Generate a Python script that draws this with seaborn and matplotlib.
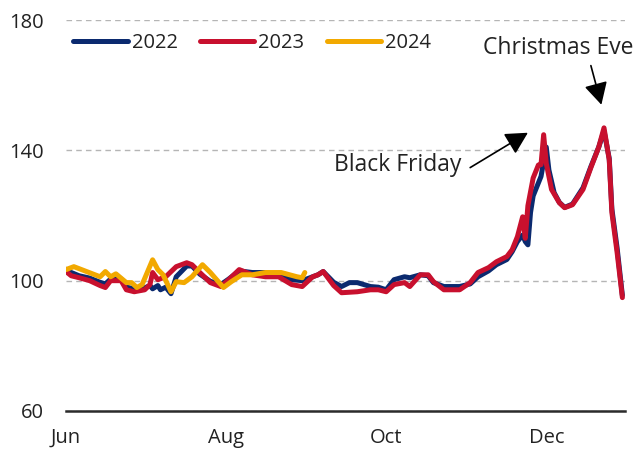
import matplotlib
matplotlib.use("Agg")
import matplotlib.pyplot as plt
from matplotlib.lines import Line2D
import pandas as pd
import seaborn as sns

# Seasonal index (common calendar: month-day), one series per year
dates_2022 = ["06-01", "06-03", "06-06", "06-10", "06-14", "06-16", "06-18", "06-22",
              "06-24", "06-27", "07-01", "07-03", "07-04", "07-06", "07-07", "07-09",
              "07-11", "07-13", "07-17", "07-19", "07-22", "07-26", "07-30", "08-02",
              "08-06", "08-11", "08-16", "08-21", "08-26", "08-30", "09-03", "09-05",
              "09-07", "09-11", "09-14", "09-17", "09-20", "09-25", "09-28", "10-01",
              "10-04", "10-08", "10-10", "10-14", "10-17", "10-19", "10-23", "10-29",
              "11-02", "11-05", "11-09", "11-12", "11-16", "11-18", "11-20", "11-22",
              "11-23", "11-24", "11-25", "11-26", "11-28", "11-29", "12-01", "12-02",
              "12-04", "12-06", "12-08", "12-11", "12-15", "12-18", "12-21", "12-23",
              "12-25", "12-26", "12-28", "12-30"]
values_2022 = [103.5, 102.5, 101.5, 100.8, 99.5, 99.0, 100.5, 100.5,
               98.0, 97.5, 97.8, 98.5, 97.5, 98.5, 97.2, 98.0,
               96.0, 101.2, 104.5, 104.5, 102.0, 99.8, 98.8, 100.5,
               103.0, 102.5, 102.5, 101.8, 100.3, 100.0, 101.2, 101.8,
               102.8, 99.5, 98.2, 99.4, 99.4, 98.2, 98.0, 97.2,
               100.3, 101.2, 100.9, 101.8, 101.5, 99.4, 98.2, 98.2,
               99.0, 101.2, 103.0, 104.9, 106.5, 108.9, 112.0, 114.0,
               112.0, 111.0, 120.9, 126.0, 130.0, 132.0, 141.0, 134.0,
               127.0, 124.0, 122.5, 123.5, 128.5, 135.0, 141.0, 146.0,
               137.5, 122.0, 110.0, 95.5]

dates_2023 = ["06-01", "06-03", "06-06", "06-10", "06-14", "06-16", "06-18", "06-22",
              "06-24", "06-27", "07-01", "07-03", "07-04", "07-06", "07-09", "07-13",
              "07-17", "07-19", "07-22", "07-26", "07-30", "08-02", "08-06", "08-11",
              "08-16", "08-21", "08-26", "08-30", "09-03", "09-05", "09-07", "09-11",
              "09-14", "09-20", "09-25", "09-28", "10-01", "10-04", "10-08", "10-10",
              "10-14", "10-17", "10-19", "10-23", "10-29", "11-02", "11-05", "11-09",
              "11-12", "11-16", "11-18", "11-20", "11-22", "11-23", "11-24", "11-26",
              "11-28", "11-29", "11-30", "12-01", "12-03", "12-06", "12-08", "12-11",
              "12-15", "12-18", "12-21", "12-23", "12-25", "12-26", "12-28", "12-30"]
values_2023 = [102.8, 101.5, 100.9, 100.0, 98.5, 97.9, 100.0, 100.0,
               97.2, 96.6, 97.2, 98.8, 102.5, 100.3, 101.2, 104.3,
               105.5, 104.9, 102.5, 99.4, 98.2, 100.3, 103.4, 101.8,
               101.2, 101.2, 98.8, 98.2, 101.2, 101.8, 102.8, 98.5,
               96.3, 96.6, 97.2, 97.2, 96.6, 98.8, 99.4, 98.2,
               101.8, 101.8, 99.7, 97.2, 97.2, 99.4, 102.5, 104.0,
               105.8, 107.4, 109.5, 113.5, 119.6, 113.0, 123.0, 131.5,
               135.5, 135.6, 144.8, 136.0, 128.0, 123.9, 122.4, 123.3,
               128.0, 134.7, 141.0, 146.9, 137.0, 120.9, 108.6, 94.8]

dates_2024 = ["06-01", "06-04", "06-14", "06-16", "06-18", "06-20", "06-24", "06-26",
              "06-28", "06-30", "07-04", "07-06", "07-08", "07-11", "07-13", "07-16",
              "07-19", "07-23", "07-26", "07-31", "08-03", "08-07", "08-11", "08-16",
              "08-22", "08-28", "08-30", "08-31"]
values_2024 = [103.4, 104.3, 101.2, 102.8, 101.2, 102.1, 99.4, 99.4,
               97.9, 98.8, 106.4, 103.4, 101.8, 96.6, 99.7, 99.4,
               101.2, 104.9, 102.5, 97.9, 99.7, 101.8, 101.8, 102.5,
               102.5, 101.2, 100.9, 102.5]

years = ["2022", "2023", "2024"]
colors = {"2022": "#0b2a6f", "2023": "#c8102e", "2024": "#f2a900"}
tick_months = ["06-01", "08-01", "10-01", "12-01"]
tick_labels = ["Jun", "Aug", "Oct", "Dec"]
y_ticks = [60, 100, 140, 180]

BASE_YEAR = 2023


def to_date(md):
    return pd.Timestamp(f"{BASE_YEAR}-{md}")


frames = []
for yr, d, v in [("2022", dates_2022, values_2022),
                 ("2023", dates_2023, values_2023),
                 ("2024", dates_2024, values_2024)]:
    frames.append(pd.DataFrame({"date": [to_date(x) for x in d],
                                "value": v, "year": yr}))
df = pd.concat(frames, ignore_index=True)

sns.set_theme(style="white")
plt.rcParams["font.family"] = ["Open Sans", "DejaVu Sans"]
text_color = "#222222"

fig = plt.figure(figsize=(6.35, 4.55), dpi=100)
ax = fig.add_axes([66 / 635, 1 - 411 / 455, 559 / 635, 391 / 455])

sns.lineplot(data=df, x="date", y="value", hue="year", hue_order=years,
             palette=colors, linewidth=3.6, ax=ax, legend=False,
             solid_capstyle="round", solid_joinstyle="round", sort=True)

ax.set_xlim(to_date("06-01"), to_date("12-31"))
ax.set_ylim(60, 180)
ax.set_yticks(y_ticks)
ax.set_xticks([to_date(m) for m in tick_months])
ax.set_xticklabels(tick_labels)
ax.set_xlabel("")
ax.set_ylabel("")

ax.yaxis.grid(True, linestyle=(0, (4, 3)), color="#b5b5b5", linewidth=1.0)
ax.xaxis.grid(False)
for side in ["top", "right", "left"]:
    ax.spines[side].set_visible(False)
ax.spines["bottom"].set_color("#2b2b2b")
ax.spines["bottom"].set_linewidth(1.8)
ax.spines["bottom"].set_zorder(5)

ax.tick_params(axis="y", length=0, pad=16, labelsize=14.5, labelcolor=text_color)
ax.tick_params(axis="x", length=0, pad=12, labelsize=14.5, labelcolor=text_color)

handles = [Line2D([0], [0], color=colors[y], lw=3.6, solid_capstyle="round")
           for y in years]
leg = ax.legend(handles, years, loc="upper left", bbox_to_anchor=(0.013, 0.966),
                ncol=3, frameon=False, fontsize=14.5, handlelength=2.7,
                handletextpad=0.2, columnspacing=1.1, borderpad=0,
                borderaxespad=0)
for t in leg.get_texts():
    t.set_color(text_color)

# Annotations
arrow_kw = dict(arrowstyle="-|>,head_length=0.75,head_width=0.4",
                color="black", lw=1.2, mutation_scale=18, shrinkA=0, shrinkB=0)
ax.annotate("", xy=(to_date("11-24"), 145.4), xytext=(to_date("11-02"), 134.7),
            arrowprops=arrow_kw)
ax.text(to_date("09-11"), 135.6, "Black Friday", fontsize=16.5, color=text_color,
        ha="left", va="center")
ax.annotate("", xy=(to_date("12-22"), 154.0), xytext=(to_date("12-18"), 166.0),
            arrowprops=arrow_kw, annotation_clip=False)
ax.text(to_date("11-07"), 171.5, "Christmas Eve", fontsize=16.5, color=text_color,
        ha="left", va="center", clip_on=False)

fig.savefig("out.png", dpi=100)
